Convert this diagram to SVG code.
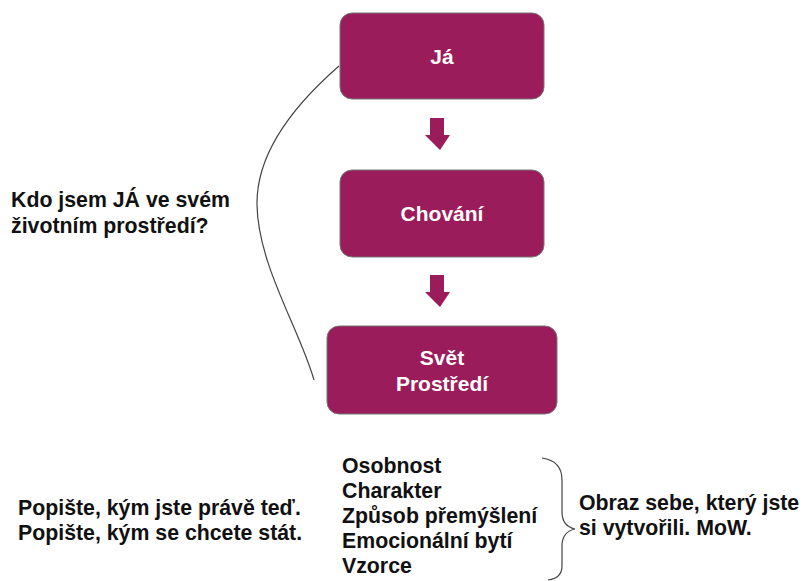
<svg xmlns="http://www.w3.org/2000/svg" width="809" height="581" viewBox="0 0 809 581">
<style>
.box{fill:#9b1c5a;stroke:#777;stroke-width:1}
.bt{font-family:"Liberation Sans",Arial,sans-serif;font-weight:bold;font-size:21px;fill:#fff;text-anchor:middle}
.t{font-family:"Liberation Sans",Arial,sans-serif;font-weight:bold;font-size:21.3px;fill:#111}
.arr{fill:#9b1c5a}
.ln{fill:none;stroke:#444;stroke-width:1.2}
</style>
<rect width="809" height="581" fill="#fff"/>
<g id="node-ja"><rect class="box" x="340" y="13" width="204" height="86" rx="12"/><text class="bt" x="442" y="64">Já</text></g>
<g id="node-chovani"><rect class="box" x="340" y="170" width="204" height="87" rx="12"/><text class="bt" x="442" y="221">Chování</text></g>
<g id="node-svet"><rect class="box" x="327" y="326" width="230" height="88" rx="12"/><text class="bt" x="442" y="365">Svět</text><text class="bt" x="442" y="391">Prostředí</text></g>
<g id="connectors">
<path class="arr" d="M430 118 H444 V135 H450 L440 150 L425 135 H430 Z"/>
<path class="arr" d="M430 275 H444 V292 H450 L440 307 L425 292 H430 Z"/>
<path class="ln" d="M339 66 C300 100 256 150 257 205 C258 265 300 330 314 380"/>
<path class="ln" d="M542 458 C556 460 562 468 562 480 V512 C562 522 566 527 575 529 C566 531 562 536 562 546 V566 C562 575 556 579 548 580"/>
</g>
<g id="labels">
<text class="t" x="11" y="207">Kdo jsem JÁ ve svém</text>
<text class="t" x="11" y="233">životním prostředí?</text>
<text class="t" x="18" y="515">Popište, kým jste právě teď.</text>
<text class="t" x="18" y="540">Popište, kým se chcete stát.</text>
<text class="t" x="342" y="473">Osobnost</text>
<text class="t" x="342" y="498">Charakter</text>
<text class="t" x="342" y="523">Způsob přemýšlení</text>
<text class="t" x="342" y="548">Emocionální bytí</text>
<text class="t" x="342" y="573">Vzorce</text>
<text class="t" x="579" y="510">Obraz sebe, který jste</text>
<text class="t" x="579" y="535">si vytvořili. MoW.</text>
</g>
</svg>
